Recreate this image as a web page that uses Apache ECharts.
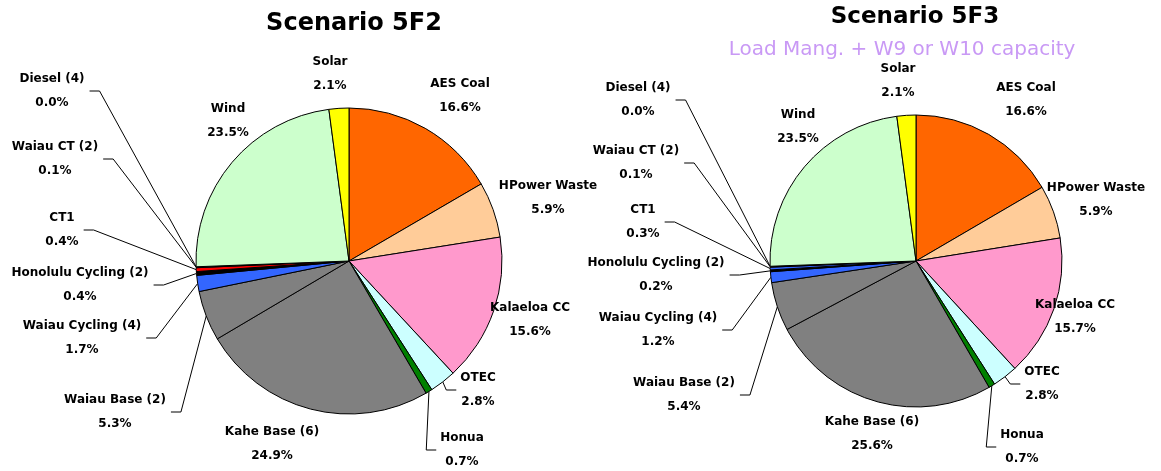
<!DOCTYPE html>
<html>
<head>
<meta charset="utf-8">
<script src="https://cdn.jsdelivr.net/npm/echarts@6/dist/echarts.min.js"></script>
<style>
  html, body { margin: 0; padding: 0; background: #ffffff; }
  #chart { width: 1161px; height: 471px; }
</style>
</head>
<body>
<div id="chart"></div>
<script>
// Generation share by unit, clockwise from 12 o'clock
const categories = ['AES Coal', 'HPower Waste', 'Kalaeloa CC', 'OTEC', 'Honua', 'Kahe Base (6)',
  'Waiau Base (2)', 'Waiau Cycling (4)', 'Honolulu Cycling (2)', 'CT1', 'Waiau CT (2)',
  'Diesel (4)', 'Wind', 'Solar'];
const share5F2 = [16.6, 5.9, 15.6, 2.8, 0.7, 24.9, 5.3, 1.7, 0.4, 0.4, 0.1, 0.0, 23.5, 2.1];
const share5F3 = [16.6, 5.9, 15.7, 2.8, 0.7, 25.6, 5.4, 1.2, 0.2, 0.3, 0.1, 0.0, 23.5, 2.1];

const titles = ['Scenario 5F2', 'Scenario 5F3'];
const subtitle5F3 = 'Load Mang. + W9 or W10 capacity';

// Slice fills
const colors5F2 = ['#ff6600', '#ffcc99', '#ff99cc', '#ccffff', '#008000', '#808080', '#808080',
  '#3366ff', '#000000', '#ff0000', '#800000', '#000000', '#ccffcc', '#ffff00'];
const colors5F3 = ['#ff6600', '#ffcc99', '#ff99cc', '#ccffff', '#008000', '#808080', '#808080',
  '#3366ff', '#000000', '#3366ff', '#800000', '#000000', '#ccffcc', '#ffff00'];

// Label block centres (page pixels)
const labelPos5F2 = [[460, 96], [548, 198], [530, 320], [478, 390], [462, 450], [272, 444],
  [115, 412], [82, 338], [80, 285], [62, 230], [55, 159], [52, 91], [228, 121], [330, 74]];
const labelPos5F3 = [[1026, 100], [1096, 200], [1075, 317], [1042, 384], [1022, 447], [872, 434],
  [684, 395], [658, 330], [656, 275], [643, 222], [636, 163], [638, 100], [798, 127], [898, 81]];

// Slices whose labels are joined to the pie by a leader line
const withLeader = ['OTEC', 'Honua', 'Waiau Base (2)', 'Waiau Cycling (4)', 'Honolulu Cycling (2)',
  'CT1', 'Waiau CT (2)', 'Diesel (4)'];

const FONT = 'DejaVu Sans';

function buildData(values, colors) {
  return categories.map((name, i) => ({
    name: name,
    value: values[i],
    itemStyle: { color: colors[i] },
    labelLine: { show: withLeader.indexOf(name) >= 0 }
  }));
}

function pieSeries(values, colors, center, radius, positions) {
  return {
    type: 'pie',
    center: center,
    radius: radius,
    startAngle: 90,
    clockwise: true,
    avoidLabelOverlap: false,
    animation: false,
    silent: true,
    data: buildData(values, colors),
    itemStyle: { borderColor: '#000000', borderWidth: 1 },
    label: {
      show: true,
      position: 'outside',
      color: '#000000',
      fontFamily: FONT,
      fontWeight: 'bold',
      fontSize: 12,
      lineHeight: 24,
      align: 'center',
      formatter: p => p.name + '\n' + p.value.toFixed(1) + '%'
    },
    labelLine: {
      show: true,
      length: 10,
      length2: 8,
      lineStyle: { color: '#000000', width: 1 }
    },
    labelLayout: params => {
      const pos = positions[params.dataIndex];
      const out = { x: pos[0], y: pos[1], align: 'center', verticalAlign: 'middle' };
      const pts = params.labelLinePoints;
      if (pts && pts.length) {
        // leader: from the slice edge to a short horizontal stub beside the label
        const start = pts[0];
        const halfW = params.labelRect.width / 2;
        const onLeft = pos[0] < center[0];
        const ax = onLeft ? pos[0] + halfW + 5 : pos[0] - halfW - 4;
        const bx = onLeft ? ax + 10 : ax - 10;
        out.labelLinePoints = [[start[0], start[1]], [bx, pos[1]], [ax, pos[1]]];
      }
      return out;
    },
    emphasis: { disabled: true }
  };
}

const chart = echarts.init(document.getElementById('chart'), null, { renderer: 'canvas' });
chart.setOption({
  backgroundColor: '#ffffff',
  title: [
    {
      text: titles[0], left: 349, top: 7, textAlign: 'center',
      textStyle: { fontFamily: FONT, fontWeight: 'bold', fontSize: 24, color: '#000000' }
    },
    {
      text: titles[1], left: 910, top: 1, textAlign: 'center',
      textStyle: { fontFamily: FONT, fontWeight: 'bold', fontSize: 23, color: '#000000' }
    },
    {
      text: subtitle5F3, left: 897, top: 35, textAlign: 'center',
      textStyle: { fontFamily: FONT, fontWeight: 'normal', fontSize: 20, color: '#c999f5' }
    }
  ],
  series: [
    pieSeries(share5F2, colors5F2, [349, 261], 153, labelPos5F2),
    pieSeries(share5F3, colors5F3, [916, 261], 146, labelPos5F3)
  ]
});
</script>
</body>
</html>
